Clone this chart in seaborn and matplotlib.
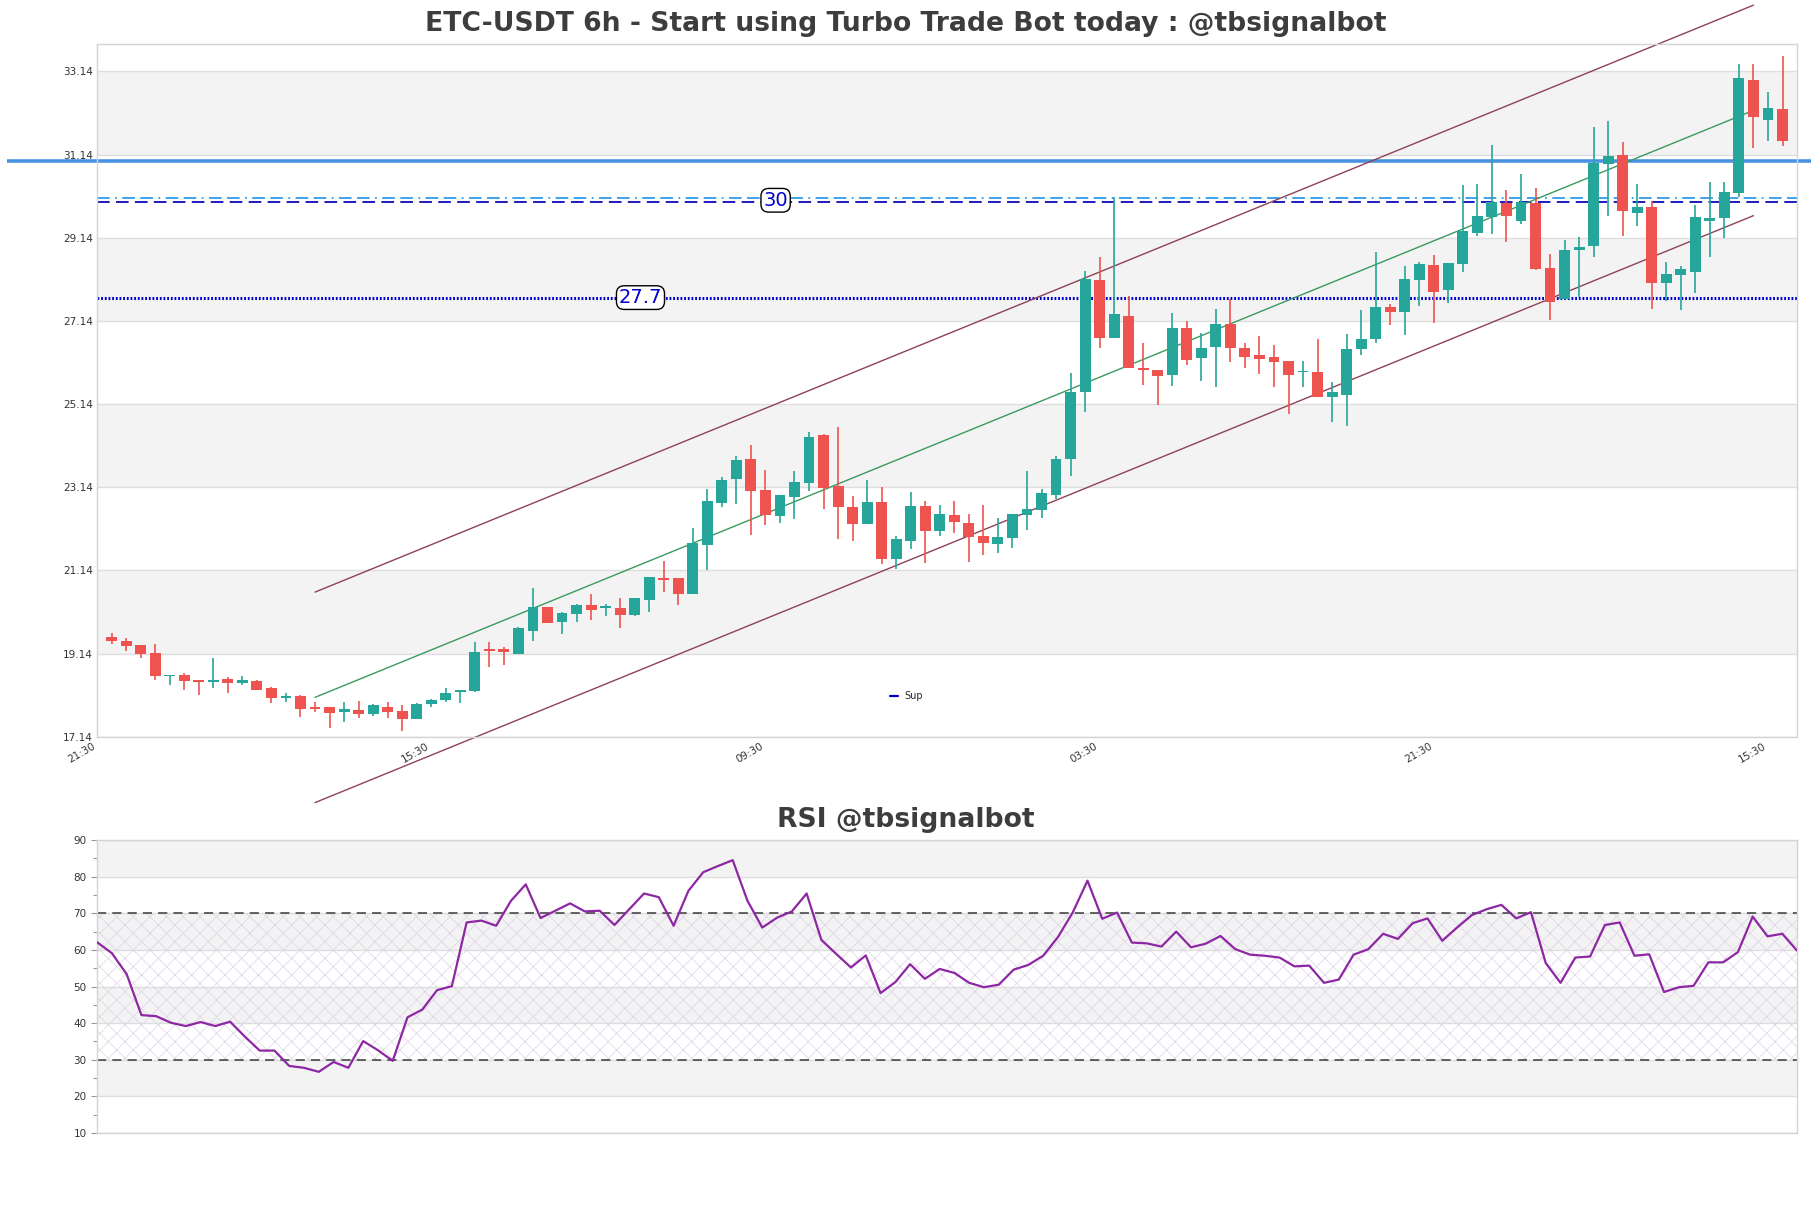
import numpy as np
import pandas as pd
import matplotlib
matplotlib.use("Agg")
import matplotlib.pyplot as plt
import seaborn as sns
from matplotlib.lines import Line2D

sns.set_theme(style="white")
plt.rcParams["font.family"] = ["DejaVu Sans"]
plt.rcParams["hatch.linewidth"] = 0.5

# ---------------- data ----------------
opens = [19.54, 19.44, 19.35, 19.16, 18.60, 18.63, 18.51, 18.47, 18.53, 18.44,
         18.49, 18.31, 18.08, 18.12, 17.86, 17.86, 17.74, 17.78, 17.70, 17.86,
         17.76, 17.58, 17.94, 18.03, 18.22, 18.25, 19.25, 19.25, 19.13, 19.69,
         20.27, 19.89, 20.10, 20.31, 20.24, 20.25, 20.07, 20.43, 20.97, 20.95,
         20.58, 21.76, 22.77, 23.34, 23.82, 23.07, 22.46, 22.91, 23.25, 24.40,
         23.17, 22.67, 22.25, 22.79, 21.41, 21.85, 22.69, 22.09, 22.47, 22.29,
         21.97, 21.77, 21.92, 22.47, 22.60, 22.96, 23.82, 25.42, 28.12, 26.73,
         27.26, 26.00, 25.96, 25.84, 26.97, 26.24, 26.52, 27.06, 26.48, 26.32,
         26.28, 26.17, 25.90, 25.90, 25.31, 25.36, 26.46, 26.70, 27.47, 27.35,
         28.13, 28.48, 27.89, 28.51, 29.25, 29.63, 29.97, 29.55, 29.97, 28.40,
         27.67, 28.84, 28.95, 30.90, 31.13, 29.73, 29.87, 28.04, 28.25, 28.32,
         29.53, 29.61, 30.22, 32.93, 31.96, 32.24]
highs = [19.64, 19.52, 19.35, 19.37, 18.63, 18.67, 18.51, 19.03, 18.59, 18.60,
         18.51, 18.33, 18.19, 18.14, 17.98, 17.86, 17.98, 18.00, 17.92, 17.98,
         17.90, 17.95, 18.05, 18.31, 18.26, 19.42, 19.42, 19.30, 19.79, 20.72,
         20.27, 20.15, 20.33, 20.57, 20.33, 20.48, 20.49, 20.98, 21.37, 20.95,
         22.17, 23.10, 23.38, 23.90, 24.15, 23.55, 22.95, 23.53, 24.46, 24.42,
         24.58, 22.94, 23.31, 23.14, 21.97, 23.02, 22.80, 22.71, 22.81, 22.49,
         22.71, 22.40, 22.49, 23.53, 23.10, 23.90, 25.88, 28.33, 28.67, 30.13,
         27.73, 26.60, 25.96, 27.34, 27.14, 26.86, 27.42, 27.66, 26.62, 26.78,
         26.56, 26.17, 26.17, 26.70, 25.66, 26.82, 27.40, 28.79, 27.55, 28.47,
         28.55, 28.72, 28.53, 30.41, 30.43, 31.37, 30.29, 30.67, 30.33, 28.76,
         29.09, 29.15, 31.80, 31.94, 31.43, 30.43, 30.03, 28.55, 28.47, 29.93,
         30.47, 30.47, 33.32, 33.32, 32.64, 33.50]
lows = [19.38, 19.21, 19.04, 18.51, 18.39, 18.27, 18.15, 18.32, 18.20, 18.39,
        18.27, 17.96, 17.99, 17.62, 17.75, 17.36, 17.50, 17.60, 17.65, 17.60,
        17.29, 17.56, 17.87, 17.97, 17.95, 18.22, 18.82, 18.87, 19.13, 19.45,
        19.87, 19.61, 19.89, 19.95, 20.05, 19.75, 20.05, 20.15, 20.63, 20.31,
        20.58, 21.16, 22.67, 22.75, 22.00, 22.24, 22.29, 22.38, 23.06, 22.62,
        21.90, 21.85, 22.25, 21.29, 21.17, 21.65, 21.32, 21.97, 22.04, 21.35,
        21.52, 21.56, 21.68, 22.12, 22.40, 22.86, 23.42, 24.94, 26.50, 26.73,
        26.00, 25.60, 25.12, 25.58, 26.08, 25.70, 25.56, 26.16, 26.00, 25.86,
        25.56, 24.90, 25.56, 25.31, 24.70, 24.62, 26.33, 26.60, 27.05, 26.81,
        27.51, 27.10, 27.56, 28.32, 29.19, 29.23, 29.04, 29.47, 28.37, 27.17,
        27.67, 27.71, 28.67, 29.67, 29.17, 29.41, 27.43, 27.63, 27.39, 27.81,
        28.68, 29.13, 30.11, 31.29, 31.47, 31.35]
closes = [19.45, 19.33, 19.14, 18.61, 18.63, 18.49, 18.47, 18.51, 18.44, 18.51,
          18.27, 18.08, 18.11, 17.82, 17.80, 17.71, 17.81, 17.70, 17.91, 17.74,
          17.58, 17.93, 18.02, 18.20, 18.26, 19.17, 19.21, 19.17, 19.75, 20.27,
          19.87, 20.11, 20.31, 20.19, 20.27, 20.07, 20.47, 20.98, 20.92, 20.58,
          21.80, 22.80, 23.31, 23.79, 23.06, 22.48, 22.95, 23.26, 24.36, 23.12,
          22.67, 22.25, 22.79, 21.41, 21.89, 22.69, 22.09, 22.49, 22.31, 21.95,
          21.80, 21.95, 22.49, 22.61, 23.00, 23.82, 25.42, 28.14, 26.73, 27.30,
          26.00, 25.97, 25.82, 26.97, 26.20, 26.50, 27.06, 26.49, 26.28, 26.22,
          26.16, 25.84, 25.93, 25.31, 25.42, 26.46, 26.70, 27.47, 27.35, 28.15,
          28.51, 27.83, 28.53, 29.31, 29.67, 30.01, 29.65, 30.01, 28.39, 27.60,
          28.84, 28.92, 30.94, 31.10, 29.77, 29.89, 28.05, 28.27, 28.39, 29.63,
          29.61, 30.23, 32.98, 32.05, 32.25, 31.47]
rsi = [62.1, 59.1, 53.4, 42.2, 41.9, 40.1, 39.2, 40.3, 39.2, 40.4,
       36.3, 32.5, 32.5, 28.3, 27.8, 26.7, 29.4, 27.8, 35.1, 32.6,
       29.7, 41.6, 43.7, 49.0, 50.1, 67.5, 68.0, 66.6, 73.4, 77.9,
       68.7, 70.7, 72.7, 70.5, 70.7, 66.8, 71.1, 75.4, 74.4, 66.6,
       76.1, 81.2, 82.9, 84.5, 73.4, 66.1, 68.8, 70.5, 75.4, 62.7,
       58.9, 55.2, 58.5, 48.2, 51.2, 56.1, 52.1, 54.8, 53.7, 51.0,
       49.8, 50.5, 54.6, 55.9, 58.4, 63.5, 70.2, 78.9, 68.5, 70.2,
       62.0, 61.8, 60.9, 65.0, 60.7, 61.7, 63.8, 60.2, 58.7, 58.4,
       57.9, 55.5, 55.7, 51.0, 51.9, 58.7, 60.2, 64.4, 63.0, 67.3,
       68.6, 62.5, 66.1, 69.5, 71.1, 72.3, 68.6, 70.3, 56.4, 51.0,
       57.9, 58.2, 66.8, 67.5, 58.4, 58.8, 48.5, 49.8, 50.2, 56.6,
       56.6, 59.4, 69.1, 63.7, 64.4, 59.8]

tick_labels = ["21:30", "15:30", "09:30", "03:30", "21:30", "15:30"]
tick_pos = [-1, 22, 45, 68, 91, 114]

resistance_level = 30.98
level_30_a = 30.09
level_30_b = 30.01
support_level = 27.70
channel_x = [14, 113]
channel_mid = [18.09, 32.20]
channel_width = 2.53

df = pd.DataFrame({"open": opens, "high": highs, "low": lows, "close": closes})
df["x"] = np.arange(len(df))
df["up"] = df["close"] >= df["open"]

GREEN = "#26a69a"
RED = "#ef5350"
BAND = "#f3f3f3"
GRID = "#dedede"
SPINE = "#d4d4d4"
TXT = "#333333"

fig = plt.figure(figsize=(18.11, 12.08), dpi=100)
ax = fig.add_axes([0.0536, 0.390, 0.9387, 0.5737])
ax2 = fig.add_axes([0.0536, 0.0621, 0.9387, 0.2425])

# ---------------- main panel ----------------
ymin, ymax = 17.14, 33.80
yt = np.arange(17.14, 33.5, 2.0)
for v in [19.14, 23.14, 27.14, 31.14]:
    ax.axhspan(v, v + 2, color=BAND, zorder=0, lw=0)
for v in yt:
    ax.axhline(v, color=GRID, lw=1.0, zorder=0.5)

# horizontal levels
ax.plot([-7.2, 120], [resistance_level] * 2, color="#4a93e2", lw=2.6,
        clip_on=False, zorder=2, solid_capstyle="butt")
ax.axhline(level_30_a, color="#2f9bef", lw=1.3, ls=(0, (7, 3, 1, 3, 7, 3)), zorder=2)
ax.axhline(level_30_b, color="#0a0ab8", lw=1.3, ls=(0, (7, 3.5)), zorder=2)
ax.axhline(support_level, color="#0000cc", lw=2.2, ls=(0, (0.6, 0.6)), zorder=2)

# channel
cm = np.array(channel_mid)
ax.plot(channel_x, cm, color="#3a9a5e", lw=1.0, zorder=2.5)
ax.plot(channel_x, cm + channel_width, color="#8e4256", lw=1.0, zorder=2.5, clip_on=False)
ax.plot(channel_x, cm - channel_width, color="#8e4256", lw=1.0, zorder=2.5, clip_on=False)

# candles
colors = np.where(df["up"], GREEN, RED)
ax.vlines(df["x"], df["low"], df["high"], colors=colors, lw=1.2, zorder=3)
body_bottom = np.minimum(df["open"], df["close"])
body_h = np.maximum(np.abs(df["close"] - df["open"]), 0.035)
ax.bar(df["x"], body_h, bottom=body_bottom, width=0.75, color=colors, lw=0, zorder=4)

# labels on levels
ax.text(45.7, 30.04, "30", fontsize=14, color="#0000cc", ha="center", va="center",
        zorder=6, bbox=dict(boxstyle="round,pad=0.12,rounding_size=0.4", fc="white", ec="black", lw=1))
ax.text(36.4, 27.70, "27.7", fontsize=14, color="#0000cc", ha="center", va="center",
        zorder=6, bbox=dict(boxstyle="round,pad=0.12,rounding_size=0.4", fc="white", ec="black", lw=1))

ax.legend(handles=[Line2D([], [], color="#0000cc", lw=1.6)], labels=["Sup"],
          loc="center", bbox_to_anchor=(0.476, 0.059), frameon=False, fontsize=7,
          handlelength=0.9, handletextpad=0.6)

ax.set_xlim(-1, 116)
ax.set_ylim(ymin, ymax)
ax.set_yticks(yt)
ax.set_yticklabels([f"{v:.2f}" for v in yt])
ax.set_xticks(tick_pos)
ax.set_xticklabels(tick_labels, rotation=30, ha="right")
ax.tick_params(axis="both", length=0, labelsize=7.5, colors=TXT, pad=3)
for s in ax.spines.values():
    s.set_color(SPINE)
    s.set_linewidth(1)
ax.grid(False)

# ---------------- RSI panel ----------------
for lo in [20, 40, 60, 80]:
    ax2.axhspan(lo, lo + 10, color=BAND, zorder=0, lw=0)
for v in range(10, 91, 10):
    ax2.axhline(v, color=GRID, lw=1.0, zorder=0.5)
ax2.fill_between([0, len(rsi) - 1], 30, 70, facecolor="none", hatch="xx",
                 edgecolor="#ddd2e6", lw=0, zorder=1)
ax2.axhline(70, color="#3a3a3a", lw=1.1, ls=(0, (6, 4)), zorder=2)
ax2.axhline(30, color="#3a3a3a", lw=1.1, ls=(0, (6, 4)), zorder=2)
rdf = pd.DataFrame({"x": np.arange(len(rsi)), "rsi": rsi})
sns.lineplot(data=rdf, x="x", y="rsi", ax=ax2, color="#8d27a3", lw=1.6, zorder=3)
ax2.set_xlim(0, len(rsi) - 1)
ax2.set_ylim(10, 90)
ax2.set_yticks(range(10, 91, 10))
ax2.set_yticks(range(15, 90, 10), minor=True)
ax2.set_xticks([])
ax2.set_xlabel("")
ax2.set_ylabel("")
ax2.tick_params(axis="y", which="major", length=4, width=0.8, color="#999999",
                labelsize=7.5, labelcolor=TXT, left=True)
ax2.tick_params(axis="y", which="minor", length=3, width=0.8, color="#999999", left=True)
for s in ax2.spines.values():
    s.set_color(SPINE)
    s.set_linewidth(1)
ax2.grid(False)

# titles
fig.text(0.5, 0.980, "ETC-USDT 6h - Start using Turbo Trade Bot today : @tbsignalbot",
         ha="center", va="center", fontsize=19.2, fontweight="bold", color="#3d3d3d")
fig.text(0.5, 0.321, "RSI @tbsignalbot", ha="center", va="center",
         fontsize=19.2, fontweight="bold", color="#3d3d3d")

fig.savefig("out.png", dpi=100)
